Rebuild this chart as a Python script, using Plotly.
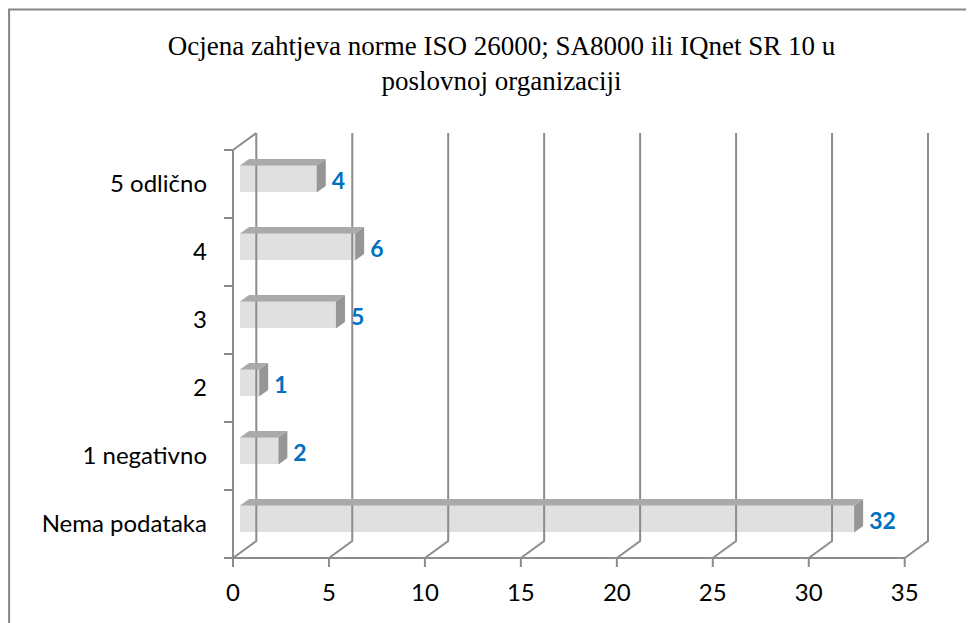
import plotly.graph_objects as go

# ---------------- data ----------------
categories = ["Nema podataka", "1 negativno", "2", "3", "4", "5 odlično"]
values = [32, 2, 1, 5, 6, 4]
x_ticks = [0, 5, 10, 15, 20, 25, 30, 35]
title_text = "Ocjena zahtjeva norme ISO 26000; SA8000 ili IQnet SR 10 u<br>poslovnoj organizaciji"

# ---------------- geometry (pixel-based styling constants) ----------------
# page body has an 8px margin, so the figure is drawn 8px smaller and
# all pixel positions are measured from (8, 8)
OFF = 8
W, H = 974 - OFF, 623 - OFF
PX_X = 19.2      # px per value unit
PX_Y = 68.0      # px per category slot
X0PX, Y0PX = 233.0 - OFF, 558.0 - OFF   # pixel of x=0 / front floor
DX = 23.3 / PX_X            # depth of the 3D box in x units
DY = 17.0 / PX_Y            # depth of the 3D box in y units
XMIN = -9.0 / PX_X
XMAX = max(x_ticks) + DX + 2.0 / PX_X
YFLOOR = -0.5
YMIN = YFLOOR - 9.0 / PX_Y
YTOP = len(categories) - 0.5
YMAX = YTOP + DY + 2.0 / PX_Y

ml = X0PX + XMIN * PX_X
mr = W - (X0PX + XMAX * PX_X)
mb = H - (Y0PX + (YFLOOR - YMIN) * PX_Y)
mt = Y0PX - (YMAX - YFLOOR) * PX_Y

BAR_OFF_X = 7.0 / PX_X
BAR_OFF_Y = 5.1 / PX_Y
BAR_DX = 9.0 / PX_X
BAR_DY = 6.5 / PX_Y
BAR_H = 27.0 / PX_Y

GRID = "#8c8c8c"
FRONT = "#e0e0e0"
TOP = "#aaaaaa"
SIDE = "#969696"
LABEL = "#0070C0"
FONT = "Lato"

ypos = list(range(len(categories)))

fig = go.Figure()

# back-wall gridlines and floor diagonals
gx, gy = [], []
for tv in x_ticks:
    gx += [tv, tv + DX, tv + DX, None]
    gy += [YFLOOR, YFLOOR + DY, YTOP + DY, None]
# front floor edge
gx += [0, max(x_ticks), None]
gy += [YFLOOR, YFLOOR, None]
# left wall front edge + top diagonal
gx += [0, 0, DX, None]
gy += [YFLOOR, YTOP, YTOP + DY, None]
# category boundary ticks on the left
for k in range(len(categories) + 1):
    gx += [XMIN, 0, None]
    gy += [YFLOOR + k, YFLOOR + k, None]
# value ticks below the floor
for tv in x_ticks:
    gx += [tv, tv, None]
    gy += [YFLOOR, YMIN, None]
fig.add_trace(go.Scatter(x=gx, y=gy, mode="lines",
                         line=dict(color=GRID, width=2),
                         hoverinfo="skip", showlegend=False))

# bar front faces
ycent = [p + BAR_OFF_Y for p in ypos]
fig.add_trace(go.Bar(orientation="h", x=values, y=ycent, base=BAR_OFF_X,
                     width=BAR_H, marker=dict(color=FRONT, line=dict(width=0)),
                     showlegend=False, hoverinfo="skip"))

# top and side faces
tx, ty, sx, sy = [], [], [], []
for v, yc in zip(values, ycent):
    x0 = BAR_OFF_X
    x1 = BAR_OFF_X + v
    ytop = yc + BAR_H / 2
    ybot = yc - BAR_H / 2
    tx += [x0, x1, x1 + BAR_DX, x0 + BAR_DX, x0, None]
    ty += [ytop, ytop, ytop + BAR_DY, ytop + BAR_DY, ytop, None]
    sx += [x1, x1, x1 + BAR_DX, x1 + BAR_DX, x1, None]
    sy += [ybot, ytop, ytop + BAR_DY, ybot + BAR_DY, ybot, None]
fig.add_trace(go.Scatter(x=tx, y=ty, mode="lines", fill="toself", fillcolor=TOP,
                         line=dict(width=0, color=TOP), hoverinfo="skip", showlegend=False))
fig.add_trace(go.Scatter(x=sx, y=sy, mode="lines", fill="toself", fillcolor=SIDE,
                         line=dict(width=0, color=SIDE), hoverinfo="skip", showlegend=False))

# data labels
fig.add_trace(go.Scatter(
    x=[BAR_OFF_X + v + BAR_DX + 6.0 / PX_X for v in values],
    y=[yc - 0.065 for yc in ycent],
    mode="text", text=[str(v) for v in values], textposition="middle right",
    textfont=dict(family=FONT, size=23, color=LABEL, weight="bold"),
    cliponaxis=False, hoverinfo="skip", showlegend=False))

# frame (left and top border of the chart area)
pw = W - ml - mr
ph = H - mt - mb
def px2paper_x(p):
    return (p - ml) / pw
def px2paper_y(p):
    return (H - mb - p) / ph
fig.add_shape(type="line", xref="paper", yref="paper",
              x0=px2paper_x(1), x1=px2paper_x(1), y0=px2paper_y(1.5), y1=px2paper_y(H + 5),
              line=dict(color="#868686", width=2))
fig.add_shape(type="line", xref="paper", yref="paper",
              x0=px2paper_x(0), x1=px2paper_x(W + 5), y0=px2paper_y(1.5), y1=px2paper_y(1.5),
              line=dict(color="#868686", width=2))

fig.update_layout(
    width=W, height=H,
    margin=dict(l=ml, r=mr, t=mt, b=mb, pad=0),
    paper_bgcolor="white", plot_bgcolor="white",
    bargap=0,
    title=dict(text=title_text, x=(501.5 - OFF) / W, xanchor="center",
               y=1 - 47 / H, yanchor="middle", yref="container",
               font=dict(family="Liberation Serif", size=27, color="black")),
    xaxis=dict(range=[XMIN, XMAX], tickvals=x_ticks, ticktext=[str(v) for v in x_ticks],
               showgrid=False, zeroline=False, showline=False, ticks="",
               tickfont=dict(family=FONT, size=24, color="black"),
               ticklabelstandoff=9, fixedrange=True),
    yaxis=dict(range=[YMIN, YMAX], tickvals=ypos, ticktext=categories,
               showgrid=False, zeroline=False, showline=False, ticks="",
               tickfont=dict(family=FONT, size=24, color="black"),
               ticklabelstandoff=16, fixedrange=True),
)

fig.write_html("out.html")
